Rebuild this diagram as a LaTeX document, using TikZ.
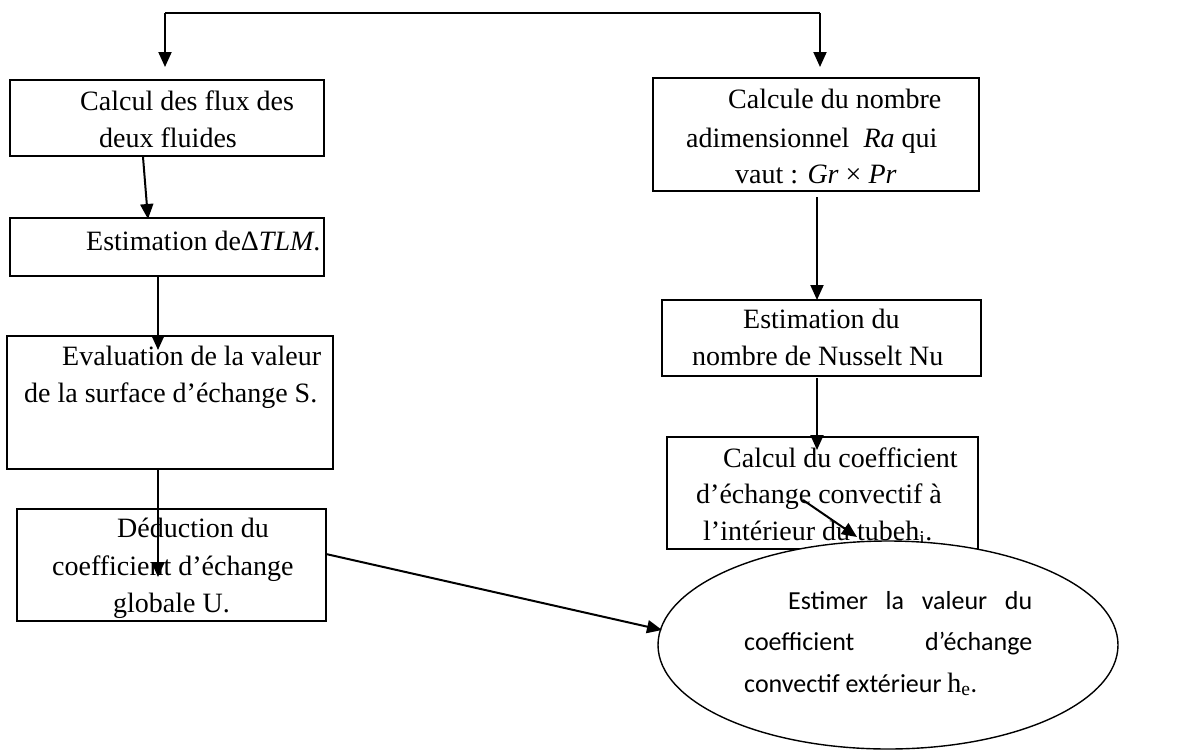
\documentclass[tikz,border=0pt]{standalone}
\usepackage{fontspec}
\setmainfont{Liberation Serif}
\newfontfamily\calibrifont{Carlito}
\usetikzlibrary{arrows.meta,shapes.geometric,calc}
\begin{document}
\begin{tikzpicture}[x=1pt,y=-1pt,
  boxst/.style={draw,line width=2pt,inner sep=0pt,outer sep=0pt},
  ln/.style={line width=2pt},
  arr/.style={line width=2pt,-{Triangle[length=15pt,width=13pt]}},
  txt/.style={font=\fontsize{28}{34}\selectfont,inner sep=0pt,anchor=base west},
  etxt/.style={font=\calibrifont\fontsize{26}{30}\selectfont,inner sep=0pt,anchor=base west}]
\useasboundingbox (0,0) rectangle (1180,750);
% boxes
\node[boxst,minimum width=314pt,minimum height=76pt] (b1) at (167,118) {};
\node[boxst,minimum width=314pt,minimum height=58pt] (b2) at (167,247) {};
\node[boxst,minimum width=326pt,minimum height=133pt] (b3) at (170,402.5) {};
\node[boxst,minimum width=309pt,minimum height=112pt] (b4) at (171.5,565) {};
\node[boxst,minimum width=326pt,minimum height=113pt] (r1) at (816,134.5) {};
\node[boxst,minimum width=319pt,minimum height=76pt] (r2) at (821.5,338) {};
\node[boxst,minimum width=311pt,minimum height=112pt] (r3) at (822.5,493) {};
% texts
\node[txt] (t1a) at (80,110) {Calcul des flux des};
\node[txt] (t1b) at (99,147) {deux fluides};
\node[txt] (t2a) at (86,250) {Estimation deΔ\textit{TLM}.};
\node[txt] (t3a) at (62,365) {Evaluation de la valeur};
\node[txt] (t3b) at (24,402) {de la surface d’échange S.};
\node[txt] (t4a) at (117,537) {Déduction du};
\node[txt] (t4b) at (52,575) {coefficient d’échange};
\node[txt] (t4c) at (113,612) {globale U.};
\node[txt] (s1a) at (728,108) {Calcule du nombre};
\node[txt] (s1b) at (686,147) {adimensionnel \ \textit{Ra} qui};
\node[txt] (s1c) at (735,183) {vaut : \textit{Gr} × \textit{Pr}};
\node[txt] (s2a) at (743,328) {Estimation du};
\node[txt] (s2b) at (692,365) {nombre de Nusselt Nu};
\node[txt] (s3a) at (723,467) {Calcul du coefficient};
\node[txt] (s3b) at (696,503) {d’échange convectif à};
\node[txt] (s3c) at (703,540) {l’intérieur du tubeh\textsubscript{i}.};
% ellipse
\node[ellipse,draw,fill=white,line width=1.4pt,minimum width=460pt,minimum height=208pt,inner sep=0pt,outer sep=0pt] (ell) at (888,645) {};
\node[etxt] (e1) at (788,609) {\makebox[244pt][s]{Estimer la valeur du}};
\node[etxt] (e2) at (744,650) {\makebox[288pt][s]{coefficient d’échange}};
\node[etxt] (e3) at (744,692) {convectif extérieur {\rmfamily\fontsize{28}{34}\selectfont h\textsubscript{e}}.};
% connectors
\coordinate (tl) at (165,13);
\coordinate (tr) at (820,13);
\draw[ln] (tl) -- (tr);
\draw[arr,shorten >=13pt] (tl) -- (tl |- b1.north);
\draw[arr,shorten >=11pt] (tr) -- (tr |- r1.north);
\draw[arr] ($(b1.south)+(-24,1)$) -- ($(b2.north)+(-19,1)$);
\draw[arr] ($(b2.south)+(-9,0)$) -- ($(b3.north)+(-12,14)$);
\draw[arr] ($(b3.south)+(-12,0)$) -- ($(b4.north)+(-13.5,68)$);
\draw[arr] ($(b4.east)+(0,-11)$) -- ($(ell.west)+(4,-15)$);
\draw[arr] ($(r1.south)+(1,6)$) -- ($(r2.north)+(-4.5,0)$);
\draw[arr] ($(r2.south)+(-4.5,2)$) -- ($(r3.north)+(-5.5,13)$);
\draw[arr] ($(r3.center)+(-19.5,7)$) -- ($(ell.north)+(-31,-4)$);
\end{tikzpicture}
\end{document}
